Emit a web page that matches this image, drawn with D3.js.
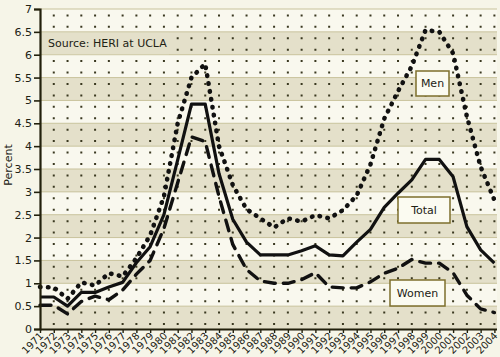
<!DOCTYPE html>
<html><head><meta charset="utf-8">
<script src="https://cdn.jsdelivr.net/npm/d3@7"></script>
<style>
html,body{margin:0;padding:0;background:#f6f5e8;}
svg{display:block;font-family:"DejaVu Sans",Verdana,sans-serif;}
</style></head>
<body><svg id="c" width="500" height="357"></svg>
<script>
const years = [1971,1972,1973,1974,1975,1976,1977,1978,1979,1980,1981,1982,1983,1984,1985,1986,1987,1988,1989,1990,1991,1992,1993,1994,1995,1996,1997,1998,1999,2000,2001,2002,2003,2004];
const men = [0.92,0.91,0.66,1.02,0.95,1.22,1.15,1.55,2.05,2.9,4.5,5.5,5.8,4.0,3.15,2.62,2.42,2.22,2.42,2.35,2.49,2.42,2.6,2.92,3.6,4.6,5.2,5.75,6.54,6.5,6.03,4.65,3.55,2.82];
const total = [0.7,0.7,0.5,0.8,0.8,0.92,1.02,1.45,1.8,2.5,3.7,4.92,4.92,3.4,2.4,1.9,1.62,1.62,1.62,1.71,1.82,1.62,1.6,1.9,2.18,2.66,2.97,3.26,3.71,3.71,3.33,2.24,1.73,1.44];
const women = [0.52,0.52,0.33,0.6,0.72,0.64,0.85,1.2,1.5,2.2,3.2,4.2,4.1,2.9,1.85,1.3,1.05,1.0,1.0,1.08,1.23,0.92,0.9,0.9,1.03,1.22,1.33,1.52,1.44,1.44,1.23,0.74,0.44,0.36];
const yTicks = [0,0.5,1,1.5,2,2.5,3,3.5,4,4.5,5,5.5,6,6.5,7];
const yTickLabels = ["0","0.5","1","1.5","2","2.5","3","3.5","4","4.5","5","5.5","6","6.5","7"];
const seriesNames = ["Men","Total","Women"];
const sourceText = "Source: HERI at UCLA";
const yTitle = "Percent";

const svg = d3.select("#c");
const L = 40, R = 497, T = 9, B = 329;
const x = d3.scalePoint().domain(years).range([40, 494.4]);
const y = d3.scaleLinear().domain([0,7]).range([B, T]);

// bands
const g = svg.append("g");
for (let i = 0; i < yTicks.length - 1; i++) {
  g.append("rect")
    .attr("x", L).attr("width", R - L)
    .attr("y", y(yTicks[i+1])).attr("height", y(yTicks[i]) - y(yTicks[i+1]))
    .attr("fill", i % 2 === 0 ? "#e4e0ca" : "#f9f8ee");
}
// horizontal grid
g.selectAll("line.h").data(yTicks.slice(1)).enter().append("line")
  .attr("x1", L).attr("x2", R).attr("y1", d => y(d)).attr("y2", d => y(d))
  .attr("stroke", "#c9c39c").attr("stroke-width", 1);
// vertical dotted grid
g.selectAll("line.v").data(years.slice(1)).enter().append("line")
  .attr("x1", d => x(d)).attr("x2", d => x(d)).attr("y1", B).attr("y2", T)
  .attr("stroke", "#3a3820").attr("stroke-width", 2)
  .attr("stroke-dasharray", "2,9.43").attr("stroke-dashoffset", -4);

// source box + text
svg.append("rect").attr("x", 43).attr("y", y(6.5) + 1).attr("width", 126).attr("height", y(6) - y(6.5) - 1.5)
  .attr("fill", "#e4e0ca");
svg.append("text").attr("x", 48).attr("y", 47).attr("font-size", 11).attr("fill", "#222214").text(sourceText);

// lines
const line = vals => d3.line().x((d,i) => x(years[i])).y(d => y(d))(vals);
svg.append("path").attr("d", line(total)).attr("fill","none").attr("stroke","#111").attr("stroke-width",3.2).attr("stroke-linejoin","round");
svg.append("path").attr("d", line(women)).attr("fill","none").attr("stroke","#111").attr("stroke-width",3.4)
  .attr("stroke-dasharray","11,8").attr("stroke-linecap","round").attr("stroke-linejoin","round");
svg.append("path").attr("d", line(men)).attr("fill","none").attr("stroke","#111").attr("stroke-width",4.6)
  .attr("stroke-dasharray","0.5,7.5").attr("stroke-linecap","round").attr("stroke-linejoin","round");

// label boxes
const boxes = [
  {name: seriesNames[0], x0: 416, y0: 71, w: 33, h: 25},
  {name: seriesNames[1], x0: 398, y0: 197, w: 52, h: 26},
  {name: seriesNames[2], x0: 390, y0: 280, w: 55, h: 26}
];
boxes.forEach(b => {
  svg.append("rect").attr("x", b.x0).attr("y", b.y0).attr("width", b.w).attr("height", b.h)
    .attr("fill", "#fbfbf1").attr("stroke", "#7d6f2c").attr("stroke-width", 1.5);
  svg.append("text").attr("x", b.x0 + b.w/2).attr("y", b.y0 + b.h/2).attr("dy", "0.36em")
    .attr("text-anchor", "middle").attr("font-size", 11).attr("fill", "#222214").text(b.name);
});

// y axis
const ya = svg.append("g").attr("transform", `translate(${L},0)`)
  .call(d3.axisLeft(y).tickValues(yTicks).tickFormat((d,i) => yTickLabels[i]).tickSize(6).tickPadding(2));
ya.select(".domain").attr("stroke", "#22200c").attr("stroke-width", 2.2);
ya.selectAll(".tick line").attr("stroke", "#22200c").attr("stroke-width", 1.6);
ya.selectAll("text").attr("font-size", 11).attr("fill", "#222214").attr("font-family", "DejaVu Sans");

// x axis
const xa = svg.append("g").attr("transform", `translate(0,${B})`)
  .call(d3.axisBottom(x).tickSize(4).tickSizeOuter(0));
xa.select(".domain").attr("stroke", "#22200c").attr("stroke-width", 2.2).attr("d", `M${L},0.5H${R}`);
xa.selectAll(".tick line").attr("stroke", "#22200c").attr("stroke-width", 1.4);
xa.selectAll("text").attr("font-size", 10).attr("fill", "#222214").attr("font-family", "DejaVu Sans")
  .attr("text-anchor", "end").attr("x", 0).attr("y", 0).attr("dy", "0.35em")
  .attr("transform", "translate(1,5) rotate(-45)");

// y title
svg.append("text").attr("transform", "translate(12,165) rotate(-90)").attr("text-anchor", "middle")
  .attr("font-size", 11).attr("fill", "#222214").text(yTitle);
</script></body></html>
